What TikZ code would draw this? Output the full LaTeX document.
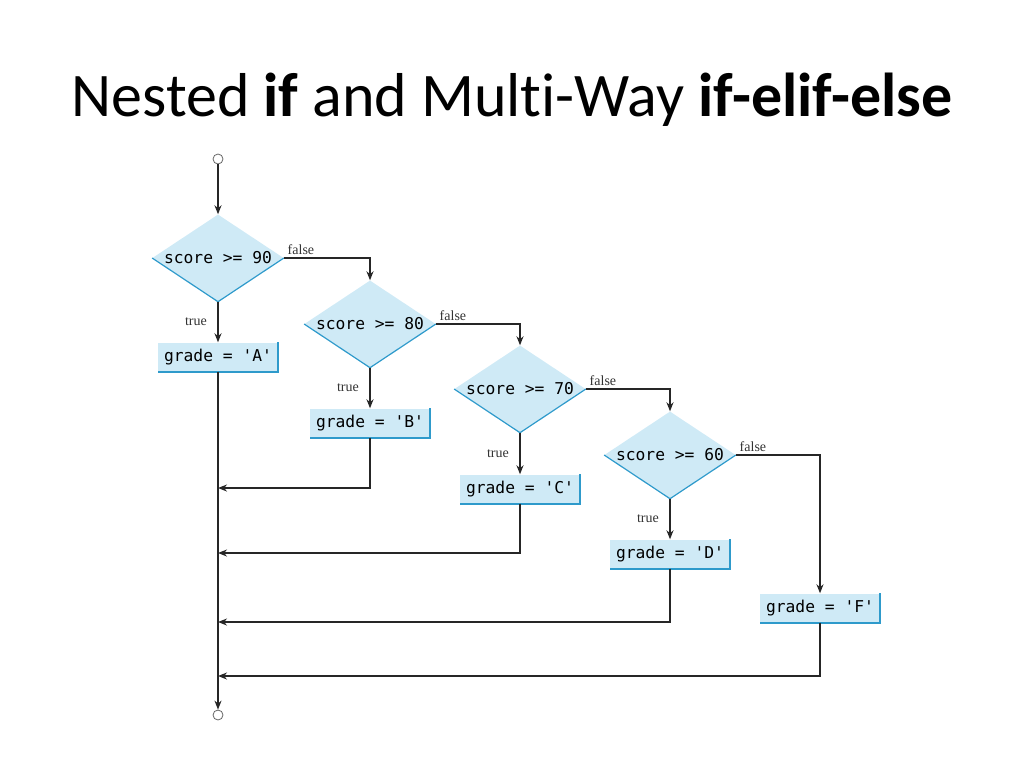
\documentclass[tikz,border=0pt]{standalone}
\usepackage{fontspec}
\setmainfont{Liberation Serif}
\setmonofont{DejaVu Sans Mono}
\newfontfamily\titlefont[Ligatures=NoCommon]{Carlito}
\usetikzlibrary{arrows.meta,positioning,shapes.geometric}

\definecolor{boxfill}{HTML}{CFEAF6}
\definecolor{boxedge}{HTML}{2E9ACB}
\definecolor{flowline}{HTML}{262626}

\begin{document}
\begin{tikzpicture}[x=1pt,y=-1pt,>={Stealth[length=9pt,width=7pt]},
        node distance=66pt and 152pt,on grid,
        decision/.style={diamond,fill=boxfill,inner sep=0pt,aspect=1.9,
          minimum width=130pt,minimum height=87pt,font=\ttfamily\fontsize{16.3}{16}\selectfont},
        action/.style={rectangle,fill=boxfill,inner xsep=6pt,minimum height=29pt,
          font=\ttfamily\fontsize{16.3}{16}\selectfont},
        terminal/.style={circle,draw=black!60,fill=white,line width=0.8pt,
          inner sep=0pt,minimum size=10pt},
        flow/.style={draw=flowline,line width=1.7pt},
        lbl/.style={font=\fontsize{14}{14}\selectfont,text=black!80}]

  \useasboundingbox (0,0) rectangle (1024,768);

  \node[font=\titlefont\fontsize{62}{62}\selectfont,anchor=base] (title) at (512,116)
    {Nested \textbf{if} and Multi-Way \textbf{if-elif-else}};

  % decisions
  \node[decision] (s90) at (218,258) {score >= 90};
  \node[decision] (s80) [below right=66pt and 152pt of s90] {score >= 80};
  \node[decision] (s70) [below right=65pt and 150pt of s80] {score >= 70};
  \node[decision] (s60) [below right=66pt and 150pt of s70] {score >= 60};

  % assignments
  \node[action] (gA) [below=99pt of s90] {grade = 'A'};
  \node[action] (gB) [below=99pt of s80] {grade = 'B'};
  \node[action] (gC) [below=100pt of s70] {grade = 'C'};
  \node[action] (gD) [below=99pt of s60] {grade = 'D'};
  \node[action] (gF) [below right=153pt and 150pt of s60] {grade = 'F'};

  \node[terminal] (start) [above=99pt of s90] {};
  \node[terminal] (stop) at (218,715) {};

  % blue edges
  \foreach \d in {s90,s80,s70,s60}
    \draw[boxedge,line width=1.2pt] (\d.west) -- (\d.south) -- (\d.east);
  \foreach \b in {gA,gB,gC,gD,gF}
    \draw[boxedge,line width=2pt] (\b.north east) -- (\b.south east) -- (\b.south west);

  % join points
  \coordinate[below=65pt of gB] (rB);
  \coordinate[below=64pt of gC] (rC);
  \coordinate[below=68pt of gD] (rD);
  \coordinate[below=68pt of gF] (rF);

  % connectors
  \draw[flow,->] (start) -- (s90.north);
  \draw[flow,->] (s90.east) node[lbl,anchor=south west,inner sep=3pt] {false} -| (s80.north);
  \draw[flow,->] (s80.east) node[lbl,anchor=south west,inner sep=3pt] {false} -| (s70.north);
  \draw[flow,->] (s70.east) node[lbl,anchor=south west,inner sep=3pt] {false} -| (s60.north);
  \draw[flow,->] (s60.east) node[lbl,anchor=south west,inner sep=3pt] {false} -| (gF.north);

  \draw[flow,->] (s90.south) -- node[lbl,left=7pt] {true} (gA.north);
  \draw[flow,->] (s80.south) -- node[lbl,left=7pt] {true} (gB.north);
  \draw[flow,->] (s70.south) -- node[lbl,left=7pt] {true} (gC.north);
  \draw[flow,->] (s60.south) -- node[lbl,left=7pt] {true} (gD.north);

  \draw[flow,->] (gA.south) -- (stop);
  \draw[flow,->] (gB.south) -- (rB) -- (rB -| gA);
  \draw[flow,->] (gC.south) -- (rC) -- (rC -| gA);
  \draw[flow,->] (gD.south) -- (rD) -- (rD -| gA);
  \draw[flow,->] (gF.south) -- (rF) -- (rF -| gA);

\end{tikzpicture}
\end{document}
